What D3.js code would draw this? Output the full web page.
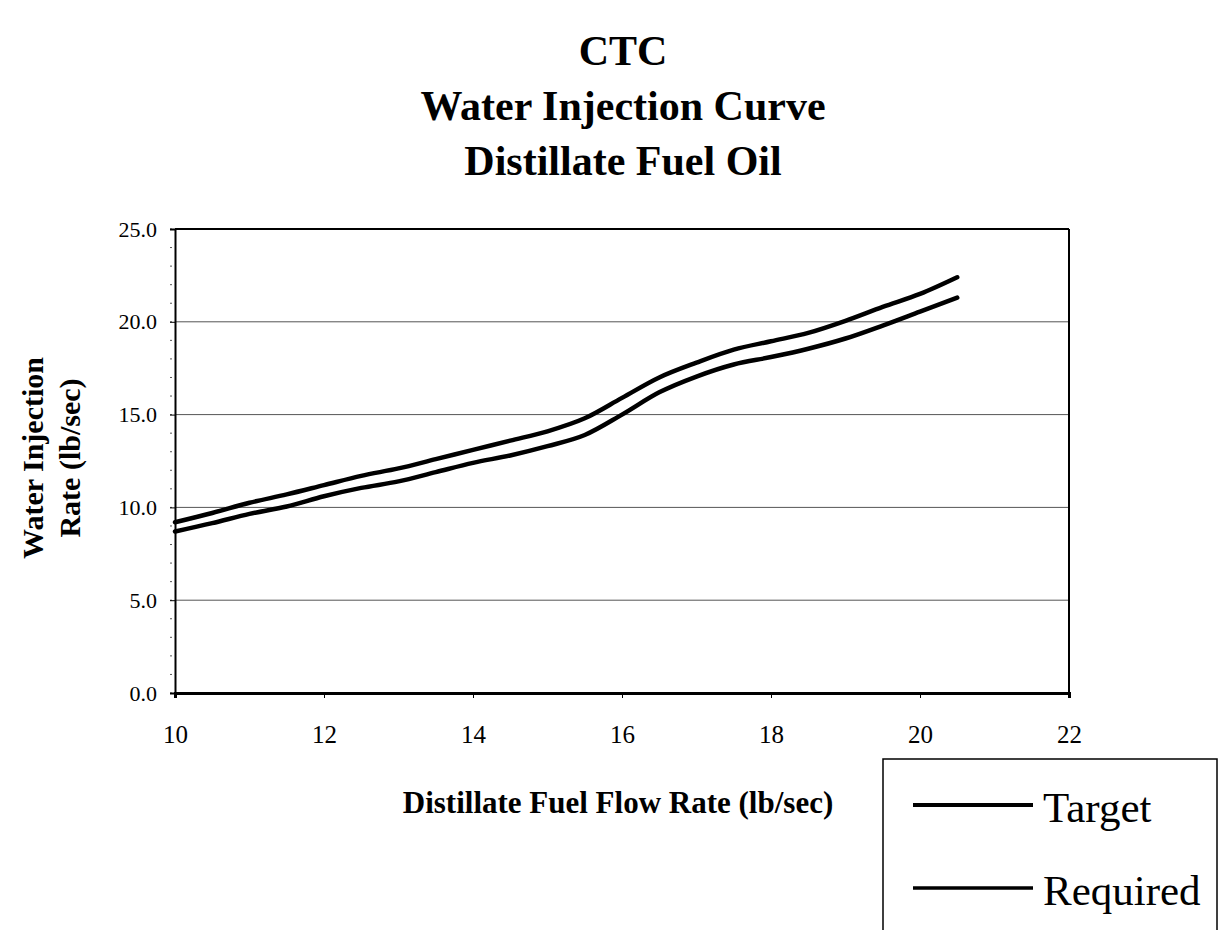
<!DOCTYPE html>
<html>
<head>
<meta charset="utf-8">
<script src="https://cdn.jsdelivr.net/npm/d3@7"></script>
<style>
  html, body { margin: 0; padding: 0; background: #fff; }
  svg { display: block; }
  text { font-family: "Liberation Serif", "Times New Roman", serif; fill: #000; }
</style>
</head>
<body>
<svg id="chart" width="1225" height="930"></svg>
<script>
const fuelFlow = [10, 10.5, 11, 11.5, 12, 12.5, 13, 13.5, 14, 14.5, 15, 15.5, 16, 16.5, 17, 17.5, 18, 18.5, 19, 19.5, 20, 20.5];
const targetRate = [9.2, 9.7, 10.25, 10.7, 11.2, 11.7, 12.1, 12.6, 13.1, 13.6, 14.1, 14.8, 15.9, 17.0, 17.8, 18.5, 18.95, 19.4, 20.05, 20.8, 21.5, 22.4];
const requiredRate = [8.7, 9.15, 9.65, 10.05, 10.6, 11.05, 11.4, 11.9, 12.4, 12.8, 13.3, 13.9, 15.0, 16.2, 17.05, 17.7, 18.1, 18.55, 19.1, 19.8, 20.55, 21.3];
const xTicks = [10, 12, 14, 16, 18, 20, 22];
const yTicks = [0, 5, 10, 15, 20, 25];
const yMinorTicks = d3.range(0, 26, 1);
const titleLines = ["CTC", "Water Injection Curve", "Distillate Fuel Oil"];
const xTitle = "Distillate Fuel Flow Rate (lb/sec)";
const yTitleLines = ["Water Injection", "Rate (lb/sec)"];
const seriesNames = ["Target", "Required"];

(function () {
const svg = d3.select("#chart");
const mLeft = 175, mRight = 1069, mTop = 229, mBottom = 693;

const x = d3.scaleLinear().domain([10, 22]).range([mLeft, mRight]);
const y = d3.scaleLinear().domain([0, 25]).range([mBottom, mTop]);

// gridlines
svg.append("g").selectAll("line").data(yTicks.filter(d => d > 0 && d < 25)).join("line")
  .attr("x1", mLeft).attr("x2", mRight)
  .attr("y1", d => y(d)).attr("y2", d => y(d))
  .attr("stroke", "#555").attr("stroke-width", 1);

// minor y ticks
svg.append("g").selectAll("line").data(yMinorTicks).join("line")
  .attr("x1", mLeft - 5).attr("x2", mLeft - 3)
  .attr("y1", d => y(d)).attr("y2", d => y(d))
  .attr("stroke", "#555").attr("stroke-width", 1);

// top and right border
svg.append("line").attr("x1", mLeft).attr("x2", mRight).attr("y1", mTop).attr("y2", mTop)
  .attr("stroke", "#000").attr("stroke-width", 2);
svg.append("line").attr("x1", mRight).attr("x2", mRight).attr("y1", mTop).attr("y2", mBottom)
  .attr("stroke", "#000").attr("stroke-width", 2);

// y axis
const yAxis = d3.axisLeft(y).tickValues(yTicks).tickFormat(d3.format(".1f")).tickSize(5).tickPadding(13);
const gy = svg.append("g").attr("transform", `translate(${mLeft},0)`).call(yAxis);
gy.select(".domain").attr("stroke", "#000").attr("stroke-width", 2);
gy.selectAll(".tick line").attr("stroke", "#000");
gy.selectAll("text").style("font-family", '"Liberation Serif", serif').style("font-size", "22px").attr("fill", "#000");

// x axis
const xAxis = d3.axisBottom(x).tickValues(xTicks).tickFormat(d3.format("d")).tickSize(5).tickPadding(27);
const gx = svg.append("g").attr("transform", `translate(0,${mBottom})`).call(xAxis);
gx.select(".domain").attr("stroke", "#000").attr("stroke-width", 3);
gx.selectAll(".tick line").attr("stroke", "#000");
gx.selectAll("text").style("font-family", '"Liberation Serif", serif').style("font-size", "25px").attr("fill", "#000");

// series lines
const line = d3.line().x(d => x(d[0])).y(d => y(d[1])).curve(d3.curveMonotoneX);
const series = [targetRate, requiredRate];
series.forEach(vals => {
  svg.append("path")
    .datum(fuelFlow.map((f, i) => [f, vals[i]]))
    .attr("d", line)
    .attr("fill", "none").attr("stroke", "#000").attr("stroke-width", 4.5)
    .attr("stroke-linecap", "round").attr("stroke-linejoin", "round");
});

// title
svg.append("g").selectAll("text").data(titleLines).join("text")
  .attr("x", 623).attr("y", (d, i) => 65 + i * 55)
  .attr("text-anchor", "middle")
  .style("font-size", "42px").style("font-weight", "bold")
  .text(d => d);

// x title
svg.append("text").attr("x", 618).attr("y", 813).attr("text-anchor", "middle")
  .style("font-size", "31px").style("font-weight", "bold").text(xTitle);

// y title
svg.append("g").attr("transform", "translate(0,458) rotate(-90)")
  .selectAll("text").data(yTitleLines).join("text")
  .attr("x", 0).attr("y", (d, i) => 43 + i * 37)
  .attr("text-anchor", "middle")
  .style("font-size", "30px").style("font-weight", "bold")
  .text(d => d);

// legend
svg.append("rect").attr("x", 883).attr("y", 759).attr("width", 334).attr("height", 190)
  .attr("fill", "none").attr("stroke", "#000").attr("stroke-width", 1.5);
const lg = svg.append("g").selectAll("g").data(seriesNames).join("g")
  .attr("transform", (d, i) => `translate(0,${805 + i * 83})`);
lg.append("line").attr("x1", 913).attr("x2", 1033).attr("y1", 0).attr("y2", 0)
  .attr("stroke", "#000").attr("stroke-width", (d, i) => i === 0 ? 4 : 3.5);
lg.append("text").attr("x", 1043).attr("y", 17)
  .style("font-size", "43px").text(d => d);
})();
</script>
</body>
</html>
